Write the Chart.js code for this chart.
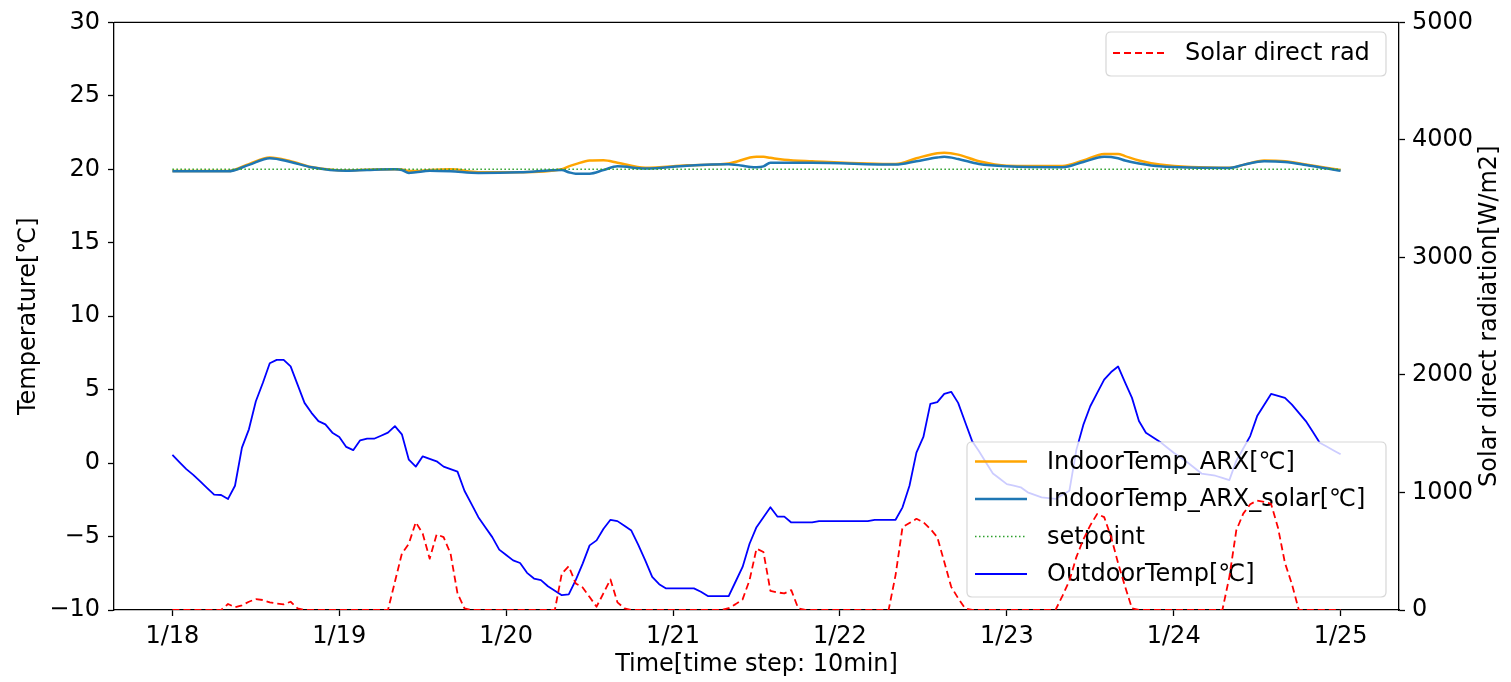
<!DOCTYPE html>
<html><head><meta charset="utf-8">
<script src="https://cdn.jsdelivr.net/npm/chart.js@4.4.1/dist/chart.umd.min.js"></script>
<style>html,body{margin:0;padding:0;background:#fff;overflow:hidden}#wrap{width:1511px;height:682px}</style>
</head><body><div id="wrap"><canvas id="c" width="1511" height="682"></canvas></div>
<script>
// ---------- data ----------
const xTickHours = [0, 24, 48, 72, 96, 120, 144, 168];
const xTickLabels = ['1/18', '1/19', '1/20', '1/21', '1/22', '1/23', '1/24', '1/25'];
const seriesLabels = ['IndoorTemp_ARX[℃]', 'IndoorTemp_ARX_solar[℃]', 'setpoint', 'OutdoorTemp[℃]', 'Solar direct rad'];
const xAxisTitle = 'Time[time step: 10min]';
const yLeftTitle = 'Temperature[℃]';
const yRightTitle = 'Solar direct radiation[W/m2]';

// hourly outdoor temperature, 1/18 00:00 .. 1/25 00:00
const outdoorTemp = [
  0.56, 0.07, -0.41, -0.8, -1.25, -1.7, -2.15, -2.17, -2.44, -1.54,
  1.05, 2.3, 4.21, 5.45, 6.8, 7.03, 7.03, 6.58, 5.34, 4.1,
  3.42, 2.86, 2.64, 2.07, 1.78, 1.1, 0.88, 1.55, 1.66, 1.66,
  1.86, 2.07, 2.52, 1.96, 0.23, -0.24, 0.46, 0.29, 0.12, -0.24,
  -0.41, -0.58, -1.88, -2.78, -3.68, -4.36, -5.04, -5.89, -6.26, -6.62,
  -6.8, -7.47, -7.86, -7.97, -8.38, -8.69, -8.99, -8.94, -7.97, -6.84,
  -5.6, -5.26, -4.47, -3.86, -3.95, -4.27, -4.59, -5.56, -6.62, -7.75,
  -8.24, -8.53, -8.53, -8.53, -8.53, -8.53, -8.76, -9.05, -9.05, -9.05,
  -9.05, -8.06, -7.07, -5.49, -4.36, -3.69, -3.01, -3.64, -3.64, -4.04,
  -4.04, -4.04, -4.04, -3.95, -3.95, -3.95, -3.95, -3.95, -3.95, -3.95,
  -3.95, -3.86, -3.86, -3.86, -3.86, -3.01, -1.54, 0.71, 1.78, 4.03,
  4.15, 4.71, 4.85, 4.1, 2.8, 1.51, 0.8, 0.04, -0.71, -1.07,
  -1.43, -1.54, -1.65, -1.99, -2.16, -2.33, -2.39, -2.44, -2.16, -1.88,
  0.9, 2.6, 3.87, 4.78, 5.68, 6.2, 6.58, 5.5, 4.44, 2.86,
  2.07, 1.76, 1.46, 1.08, 0.71, 0.38, 0.04, -0.33, -0.71, -0.79,
  -0.86, -1.01, -1.16, 0.15, 0.99, 1.84, 3.2, 3.96, 4.71, 4.58,
  4.44, 3.98, 3.42, 2.86, 2.13, 1.39, 1.13, 0.86, 0.6
];

// hourly solar direct radiation [W/m2]
const solarDirect = [
  0, 0, 0, 0, 0, 0, 0, 0,
  51, 23, 40, 70, 93, 85, 65, 55, 48, 70, 14,
  0, 0, 0, 0, 0, 0, 0, 0, 0, 0, 0, 0, 0,
  240, 480, 564, 747, 649, 437, 643, 620, 480, 141, 14,
  0, 0, 0, 0, 0, 0, 0, 0, 0, 0, 0, 0, 0,
  310, 372, 226, 192, 110, 28, 144, 260, 65, 14,
  0, 0, 0, 0, 0, 0, 0, 0, 0, 0, 0, 0, 0, 0,
  15, 50, 90, 254, 522, 493, 163, 150, 141, 169, 14,
  0, 0, 0, 0, 0, 0, 0, 0, 0, 0, 0, 0,
  0, 297, 705, 740, 776, 747, 690, 620, 410, 197, 100, 14,
  0, 0, 0, 0, 0, 0, 0, 0, 0, 0, 0, 0, 0,
  120, 250, 450, 600, 720, 818, 790, 620, 400, 200, 14,
  0, 0, 0, 0, 0, 0, 0, 0, 0, 0, 0, 0, 0,
  280, 677, 820, 900, 931, 920, 903, 700, 400, 220, 0,
  0, 0, 0, 0, 0, 0
];

// indoor temperatures at read-off points (hours since 1/18 00:00)
const indoorHours = [0, 8, 11, 14, 17, 20, 25, 28, 32, 33, 34, 35, 37, 40, 44, 50, 56, 57, 58, 60, 62, 64, 68, 74, 80, 84, 85, 86, 88, 92, 104, 107, 110, 111, 113, 116, 120, 128, 131, 134, 136, 137, 139, 142, 152, 154, 157, 160, 163, 168];
const indoorArx = [19.88, 19.88, 20.35, 20.8, 20.55, 20.15, 19.92, 19.97, 20.0, 19.98, 19.88, 19.88, 19.95, 20.0, 19.8, 19.8, 20.0, 20.2, 20.35, 20.6, 20.62, 20.45, 20.1, 20.27, 20.4, 20.85, 20.85, 20.78, 20.65, 20.55, 20.36, 20.75, 21.1, 21.12, 21.0, 20.55, 20.25, 20.23, 20.6, 21.05, 21.05, 20.9, 20.6, 20.32, 20.1, 20.3, 20.6, 20.55, 20.32, 19.95];
const indoorArxSolar = [19.86, 19.86, 20.3, 20.75, 20.5, 20.14, 19.9, 19.95, 20.0, 19.95, 19.75, 19.8, 19.9, 19.86, 19.75, 19.8, 19.95, 19.8, 19.7, 19.7, 19.95, 20.2, 20.05, 20.25, 20.35, 20.14, 20.2, 20.45, 20.45, 20.45, 20.32, 20.55, 20.8, 20.85, 20.7, 20.36, 20.2, 20.14, 20.5, 20.85, 20.75, 20.6, 20.4, 20.2, 20.09, 20.3, 20.55, 20.5, 20.3, 19.9];
const setpointHours = [0, 168];
const setpointTemp = [20, 20];

// ---------- chart ----------
const FONT = "'DejaVu Sans', 'Liberation Sans', sans-serif";
Chart.defaults.font.family = FONT;
Chart.defaults.font.size = 24;
Chart.defaults.color = '#000';

const toXY = (xs, ys) => xs.map((x, i) => ({ x: x, y: ys[i] }));
const hourIdx = arr => arr.map((_, i) => i);

function legendFromDatasets(chart, box, idxs) {
  const ctx = chart.ctx;
  ctx.save();
  const r = 5;
  ctx.beginPath();
  ctx.moveTo(box.x + r, box.y);
  ctx.lineTo(box.x + box.w - r, box.y);
  ctx.quadraticCurveTo(box.x + box.w, box.y, box.x + box.w, box.y + r);
  ctx.lineTo(box.x + box.w, box.y + box.h - r);
  ctx.quadraticCurveTo(box.x + box.w, box.y + box.h, box.x + box.w - r, box.y + box.h);
  ctx.lineTo(box.x + r, box.y + box.h);
  ctx.quadraticCurveTo(box.x, box.y + box.h, box.x, box.y + box.h - r);
  ctx.lineTo(box.x, box.y + r);
  ctx.quadraticCurveTo(box.x, box.y, box.x + r, box.y);
  ctx.closePath();
  ctx.fillStyle = 'rgba(255,255,255,0.8)';
  ctx.fill();
  ctx.strokeStyle = 'rgba(204,204,204,0.8)';
  ctx.lineWidth = 1.2;
  ctx.stroke();
  idxs.forEach((di, k) => {
    const ds = chart.data.datasets[di];
    const y = box.row0 + k * box.step;
    ctx.beginPath();
    ctx.setLineDash(ds.borderDash || []);
    ctx.strokeStyle = ds.borderColor;
    ctx.lineWidth = ds.borderWidth;
    ctx.moveTo(box.lx0, y);
    ctx.lineTo(box.lx1, y);
    ctx.stroke();
    ctx.setLineDash([]);
    ctx.fillStyle = '#000';
    ctx.font = '24px ' + FONT;
    ctx.textBaseline = 'middle';
    ctx.textAlign = 'left';
    ctx.fillText(ds.label, box.tx, y + 1);
  });
  ctx.restore();
}

const tempLegendBox = { x: 967, y: 442, w: 419, h: 155, lx0: 975, lx1: 1027, tx: 1047, row0: 461.5, step: 37.5 };
const solarLegendBox = { x: 1106, y: 32, w: 280, h: 44, lx0: 1113, lx1: 1164, tx: 1185, row0: 53, step: 0 };

const overlay = {
  id: 'overlay',
  afterDatasetDraw(chart, args) {
    if (args.index === 3) legendFromDatasets(chart, tempLegendBox, [0, 1, 2, 3]);
  },
  afterDatasetsDraw(chart) {
    legendFromDatasets(chart, solarLegendBox, [4]);
  },
  afterDraw(chart) {
    const ctx = chart.ctx, a = chart.chartArea;
    ctx.save();
    ctx.strokeStyle = '#000';
    ctx.lineWidth = 1.3;
    ctx.beginPath();
    ctx.moveTo(a.left, a.top);
    ctx.lineTo(a.right, a.top);
    ctx.stroke();
    ctx.translate(1490, (a.top + a.bottom) / 2);
    ctx.rotate(-Math.PI / 2);
    ctx.fillStyle = '#000';
    ctx.font = '24px ' + FONT;
    ctx.textAlign = 'center';
    ctx.textBaseline = 'middle';
    ctx.fillText(yRightTitle, 0, 0);
    ctx.restore();
  }
};

const axisCommon = {
  grid: { drawOnChartArea: false, drawTicks: true, tickLength: 6, tickColor: '#000', tickWidth: 1.3 },
  border: { color: '#000', width: 1.3 }
};

new Chart(document.getElementById('c'), {
  type: 'line',
  data: {
    datasets: [
      { label: seriesLabels[0], data: toXY(indoorHours, indoorArx), borderColor: '#FFA500', borderWidth: 2.5, cubicInterpolationMode: 'monotone', yAxisID: 'y', order: 4 },
      { label: seriesLabels[1], data: toXY(indoorHours, indoorArxSolar), borderColor: '#1f77b4', borderWidth: 2.5, cubicInterpolationMode: 'monotone', yAxisID: 'y', order: 3 },
      { label: seriesLabels[2], data: toXY(setpointHours, setpointTemp), borderColor: '#2ca02c', borderWidth: 1.5, borderDash: [1.5, 2.5], yAxisID: 'y', order: 2 },
      { label: seriesLabels[3], data: toXY(hourIdx(outdoorTemp), outdoorTemp), borderColor: '#0000ff', borderWidth: 1.8, yAxisID: 'y', order: 1 },
      { label: seriesLabels[4], data: toXY(hourIdx(solarDirect), solarDirect), borderColor: '#ff0000', borderWidth: 1.8, borderDash: [7, 4], yAxisID: 'y2', order: 0 }
    ]
  },
  options: {
    responsive: false,
    devicePixelRatio: 1,
    animation: false,
    events: [],
    layout: { padding: { top: 19, left: 0, right: 0, bottom: 0 } },
    elements: { point: { radius: 0 }, line: { fill: false, borderCapStyle: 'butt', borderJoinStyle: 'round' } },
    plugins: { legend: { display: false }, tooltip: { enabled: false } },
    scales: {
      x: Object.assign({}, axisCommon, {
        type: 'linear', min: -8.4, max: 176.4,
        afterBuildTicks: s => { s.ticks = xTickHours.map(v => ({ value: v })); },
        ticks: { autoSkip: false, maxRotation: 0, padding: 6, color: '#000', font: { size: 24 },
          callback: v => { const i = xTickHours.indexOf(v); return i >= 0 ? xTickLabels[i] : ''; } },
        title: { display: true, text: xAxisTitle, color: '#000', font: { size: 24 }, padding: { top: 0, bottom: 3 } },
        afterFit: s => { s.height = 72; }
      }),
      y: Object.assign({}, axisCommon, {
        position: 'left', min: -10, max: 30,
        ticks: { stepSize: 5, padding: 8, color: '#000', font: { size: 24 }, callback: v => String(v).replace('-', '\u2212') },
        title: { display: true, text: yLeftTitle, color: '#000', font: { size: 24 }, padding: { top: 14, bottom: 0 } },
        afterFit: s => { s.width = 114; }
      }),
      y2: Object.assign({}, axisCommon, {
        position: 'right', min: 0, max: 5000,
        ticks: { stepSize: 1000, padding: 7, color: '#000', font: { size: 24 }, callback: v => String(v) },
        afterFit: s => { s.width = 112; }
      })
    }
  },
  plugins: [overlay]
});
</script>
</body></html>
